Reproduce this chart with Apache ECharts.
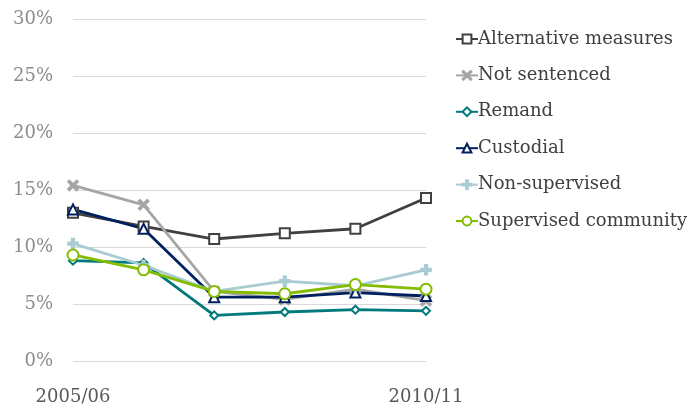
<!DOCTYPE html>
<html>
<head>
<meta charset="utf-8">
<script src="https://cdn.jsdelivr.net/npm/echarts@6/dist/echarts.min.js"></script>
<style>
  html, body { margin: 0; padding: 0; background: #fff; }
  #chart { width: 700px; height: 410px; }
</style>
</head>
<body>
<div id="chart"></div>
<script>
  const categories = ['2005/06', '2006/07', '2007/08', '2008/09', '2009/10', '2010/11']
  const yTicks = [0, 5, 10, 15, 20, 25, 30]

  const alternativeMeasures = [13.0, 11.8, 10.7, 11.2, 11.6, 14.3]
  const notSentenced = [15.4, 13.7, 6.1, 5.4, 6.3, 5.3]
  const remand = [8.8, 8.6, 4.0, 4.3, 4.5, 4.4]
  const custodial = [13.3, 11.6, 5.6, 5.6, 6.0, 5.7]
  const nonSupervised = [10.3, 8.4, 6.1, 7.0, 6.6, 8.0]
  const supervisedCommunity = [9.3, 8.0, 6.1, 5.9, 6.7, 6.3]

  const crossPath = 'path://M1,0L5,4L9,0L10,1L6,5L10,9L9,10L5,6L1,10L0,9L4,5L0,1Z'
  const plusPath = 'path://M4,0H6V4H10V6H6V10H4V6H0V4H4Z'

  const font = '"DejaVu Serif", serif'

  const makeSeries = (name, data, color, symbol, symbolSize) => ({
    name,
    type: 'line',
    data,
    symbol,
    symbolSize,
    showAllSymbol: true,
    lineStyle: { color, width: 2.8 },
    itemStyle: { color, borderColor: color, borderWidth: 2.5 },
    emphasis: { disabled: true }
  })

  const chart = echarts.init(document.getElementById('chart'))

  const option = {
    animation: false,
    grid: { left: 73, right: 274, top: 19, bottom: 49, containLabel: false },
    legend: {
      orient: 'vertical',
      left: 450,
      top: 25,
      itemWidth: 22,
      itemHeight: 11,
      itemGap: 18.4,
      textStyle: { fontFamily: font, fontSize: 18, color: '#404040', padding: [0, 0, 0, -5] },
      data: ['Alternative measures', 'Not sentenced', 'Remand', 'Custodial', 'Non-supervised', 'Supervised community']
    },
    xAxis: {
      type: 'category',
      data: categories,
      boundaryGap: false,
      axisLine: { show: false },
      axisTick: { show: false },
      axisLabel: {
        interval: (i) => i === 0 || i === categories.length - 1,
        margin: 27,
        fontFamily: font,
        fontSize: 18,
        color: '#595959'
      }
    },
    yAxis: {
      type: 'value',
      min: yTicks[0],
      max: yTicks[yTicks.length - 1],
      interval: 5,
      axisLine: { show: false },
      axisTick: { show: false },
      splitLine: { lineStyle: { color: '#d9d9d9', width: 1 } },
      axisLabel: {
        formatter: '{value}%',
        margin: 20,
        fontFamily: font,
        fontSize: 18,
        color: '#8c8c8c'
      }
    },
    series: [
      makeSeries('Alternative measures', alternativeMeasures, '#404040', 'emptyRect', 10),
      makeSeries('Not sentenced', notSentenced, '#a6a6a6', crossPath, 9),
      makeSeries('Remand', remand, '#00797b', 'emptyDiamond', 8),
      makeSeries('Custodial', custodial, '#002060', 'emptyTriangle', 10),
      makeSeries('Non-supervised', nonSupervised, '#a9cbd2', plusPath, 9),
      makeSeries('Supervised community', supervisedCommunity, '#84bd00', 'emptyCircle', 11)
    ]
  }

  chart.setOption(option)
</script>
</body>
</html>
